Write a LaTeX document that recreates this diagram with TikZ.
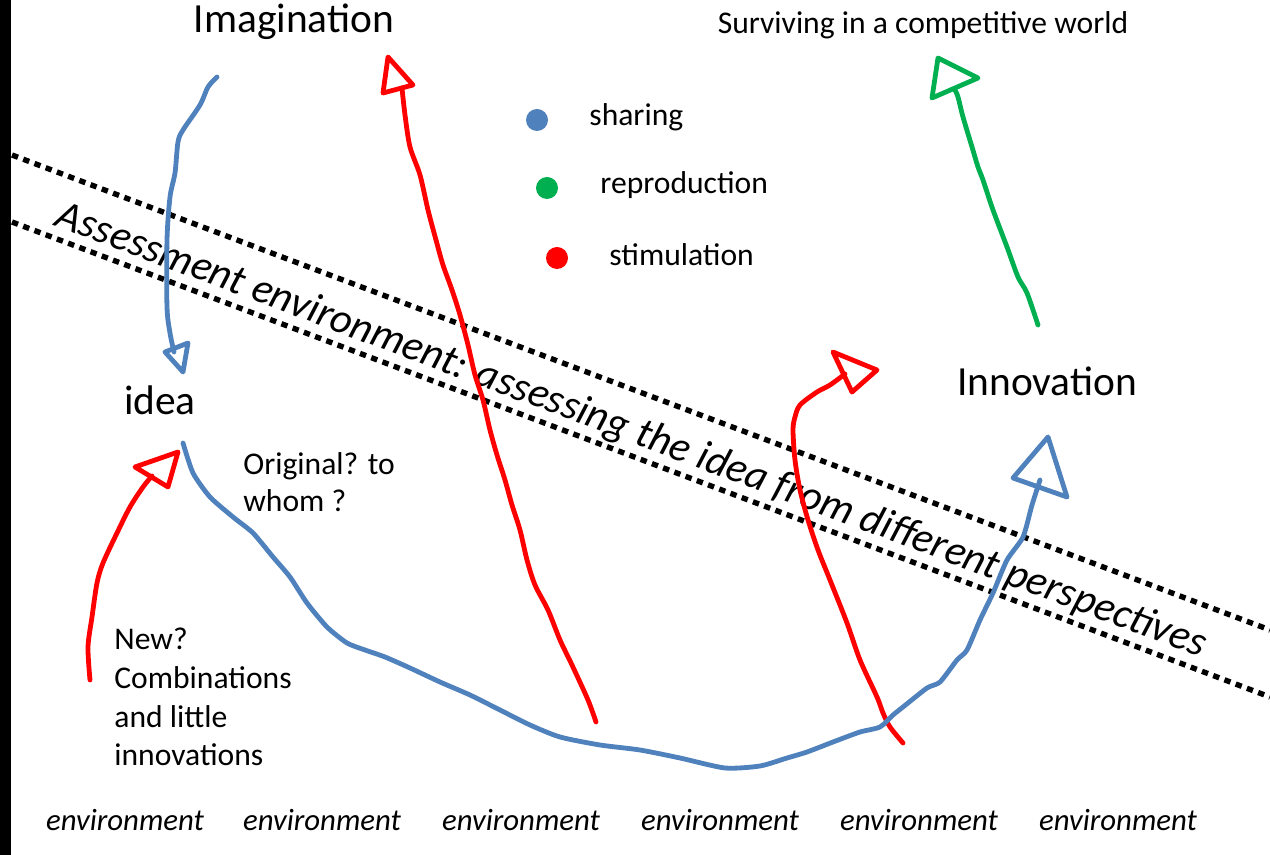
\documentclass[tikz,border=0pt]{standalone}
\usepackage{fontspec}
\setmainfont{Carlito}
\begin{document}
\begin{tikzpicture}[x=0.5pt,y=-0.5pt,
  hand/.style={line width=2.4pt, line cap=round, line join=round},
  shareline/.style={hand, draw=sblue},
  stimline/.style={hand, draw=sred},
  reproline/.style={hand, draw=sgreen},
  dotline/.style={line width=2.7pt, dash pattern=on 3.2pt off 2.8pt},
  big/.style={font=\fontsize{20.7}{24}\selectfont, inner sep=0pt},
  mid/.style={font=\fontsize{15.8}{19.2}\selectfont, inner sep=0pt},
  envlabel/.style={font=\fontsize{15.4}{18}\selectfont\itshape, inner sep=0pt},
  legdot/.style={circle, inner sep=0pt, minimum size=11pt}
]
\definecolor{sblue}{HTML}{4F81BD}
\definecolor{sred}{HTML}{FF0000}
\definecolor{sgreen}{HTML}{00B050}
\useasboundingbox (0,0) rectangle (1270,855);
\fill[white] (0,0) rectangle (1270,855);
\fill[black] (0,0) rectangle (11,855);

% assessment band
\coordinate (t1) at (12,155); \coordinate (t2) at (1270,630);
\coordinate (u1) at (12,222); \coordinate (u2) at (1270,697);
\draw[dotline] (t1) -- (t2);
\draw[dotline] (u1) -- (u2);
\node[inner sep=0pt, rotate=-20.66, font=\fontsize{21.1}{24}\selectfont\itshape] (band) at (631,431)
  {Assessment environment: assessing the idea from different perspectives};

% labels
\node[big] (imag) at (294,22) {Imagination};
\node[mid] (surv) at (923,25) {Surviving in a competitive world};
\node[big] (idea) at (160,400) {idea};
\node[big] (innov) at (1047,381) {Innovation};
\node[mid, anchor=west, align=left] (orig) at (243,482) {Original? to\\[-1pt]whom ?};
\node[mid, anchor=west, align=left, font=\fontsize{15.8}{19.4}\selectfont] (newq) at (114,697)
  {New?\\Combinations\\and little\\innovations};

% legend
\node[legdot, fill=sblue] (dblue) at (537,120) {};
\node[legdot, fill=sgreen] (dgreen) at (547,188) {};
\node[legdot, fill=sred] (dred) at (557,258) {};
\node[mid, anchor=west] (lshare) at (589,117) {sharing};
\node[mid, anchor=west] (lrepro) at (600,185) {reproduction};
\node[mid, anchor=west] (lstim) at (609,255) {stimulation};

% environment row
\foreach \x/\n in {125/e1,322/e2,521/e3,720/e4,919/e5,1118/e6}
  \node[envlabel] (\n) at (\x,820) {environment};

% blue: imagination -> idea
\coordinate (b1s) at (217,77);
\coordinate (b1e) at (174,352);
\draw[shareline] plot[smooth, tension=0.5] coordinates {(b1s) (208,87) (200,105) (183,130) (178,142) (175,173) (170,197) (167,240) (167,307) (170,333) (b1e)};
\draw[shareline] (183,372) -- (165,352) -- (188,343) -- cycle;

% red: environment -> imagination
\coordinate (r1s) at (596,722);
\coordinate (r1e) at (402,88);
\draw[stimline] plot[smooth, tension=0.5] coordinates {(r1s) (588,700) (572,665) (560,640) (548,610) (535,585) (527,560) (520,530) (512,505) (505,480) (497,455) (490,430) (483,400) (475,375) (468,345) (460,315) (452,290) (443,265) (436,240) (428,210) (420,175) (410,147) (405,115) (r1e)};
\draw[stimline] (388,57) -- (383,93) -- (413,85) -- cycle;

% red: small, new combinations -> idea
\coordinate (r2s) at (90,680);
\coordinate (r2e) at (152,476);
\draw[stimline] plot[smooth, tension=0.5] coordinates {(r2s) (88,647) (92,617) (97,583) (103,563) (117,533) (130,507) (143,487) (r2e)};
\draw[stimline] (178,452) -- (135,467) -- (168,487) -- cycle;

% red: environment -> upward arrow
\coordinate (r3s) at (903,743);
\coordinate (r3e) at (845,374);
\draw[stimline] plot[smooth, tension=0.5] coordinates {(r3s) (890,727) (883,713) (877,697) (860,660) (847,623) (830,580) (818,550) (808,520) (800,490) (795,460) (793,430) (795,417) (800,405) (817,392) (830,385) (r3e)};
\draw[stimline] (833,352) -- (877,370) -- (852,392) -- cycle;

% green: innovation -> surviving
\coordinate (g1s) at (1038,325);
\coordinate (g1e) at (955,90);
\draw[reproline] plot[smooth, tension=0.5] coordinates {(g1s) (1027,293) (1018,277) (1007,247) (993,210) (983,180) (978,167) (972,147) (963,117) (958,97) (g1e)};
\draw[reproline] (938,58) -- (932,98) -- (978,78) -- cycle;

% blue: idea -> innovation
\coordinate (b2s) at (183,443);
\coordinate (b2e) at (1040,480);
\draw[shareline] plot[smooth, tension=0.4] coordinates {(b2s) (193,473) (210,497) (233,517) (253,533) (273,557) (290,577) (307,603) (327,627) (347,643) (365,650) (385,657) (410,668) (440,682) (470,695) (500,710) (530,725) (560,737) (600,745) (640,750) (680,758) (725,768) (760,766) (787,758) (807,752) (833,742) (860,732) (880,727) (893,715) (903,707) (927,688) (940,682) (957,660) (967,650) (980,620) (993,593) (1007,560) (1023,537) (1032,505) (b2e)};
\draw[shareline] (1048,437) -- (1013,478) -- (1067,497) -- cycle;
\end{tikzpicture}
\end{document}
